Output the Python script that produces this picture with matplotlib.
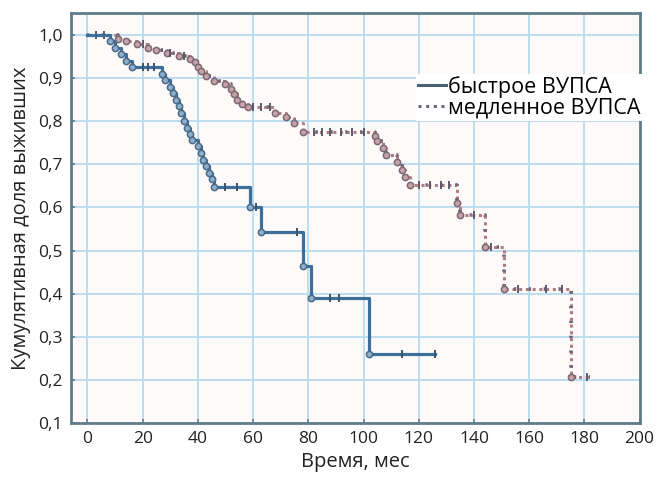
import numpy as np
import matplotlib
matplotlib.use("Agg")
import matplotlib.pyplot as plt
from matplotlib.lines import Line2D

plt.rcParams['font.family'] = ['Open Sans', 'DejaVu Sans']

# быстрое ВУПСА: step times and survival after each step
fast_t = [0, 8, 10, 12, 14, 16, 27, 28, 30, 31, 32, 33, 34, 35, 36, 37, 38, 40, 41, 42,
          43, 44, 45, 46, 59, 63, 78, 81, 102]
fast_s = [1.0, 0.985, 0.97, 0.955, 0.94, 0.925, 0.91, 0.895, 0.88, 0.865, 0.85, 0.835,
          0.82, 0.80, 0.785, 0.77, 0.757, 0.742, 0.727, 0.71, 0.695, 0.68, 0.665, 0.648,
          0.602, 0.542, 0.463, 0.389, 0.259]
fast_end = 126
fast_cens = [20, 22, 24, 50, 54, 61, 76, 88, 91, 114, 126]

# медленное ВУПСА
slow_t = [0, 11, 14, 18, 22, 25, 29, 33, 37, 39, 40, 41, 43, 46, 50, 52, 53, 54, 56, 58,
          68, 72, 75, 78, 104, 105, 107, 108, 112, 114, 115, 117, 134, 135, 144, 151, 175]
slow_s = [1.0, 0.99, 0.985, 0.978, 0.97, 0.964, 0.958, 0.952, 0.945, 0.938, 0.925, 0.917,
          0.905, 0.893, 0.887, 0.875, 0.862, 0.85, 0.84, 0.832, 0.82, 0.81, 0.795, 0.775,
          0.765, 0.753, 0.737, 0.722, 0.705, 0.687, 0.67, 0.653, 0.61, 0.583, 0.509, 0.41,
          0.206]
slow_end = 182
slow_cens = [3, 6, 20, 30, 35, 60, 63, 66, 82, 85, 88, 92, 96, 100, 120, 124, 128, 131,
             140, 146, 156, 166, 172, 181]

xticks = [0, 20, 40, 60, 80, 100, 120, 140, 160, 180, 200]
yticks = [0.1, 0.2, 0.3, 0.4, 0.5, 0.6, 0.7, 0.8, 0.9, 1.0]

blue = '#3d6f98'
red = '#b07c80'
frame = '#5e7d88'

fig = plt.figure(figsize=(6.56, 4.78), dpi=100)
ax = fig.add_axes([0.108, 0.115, 0.867, 0.858])
ax.set_facecolor('#fefafa')


def surv_at(t, s, c):
    idx = np.searchsorted(t, c, side='right') - 1
    return np.array(s)[idx]


# slow group: dotted line with dots
st = slow_t + [slow_end]
ss = slow_s + [slow_s[-1]]
ax.step(st, ss, where='post', color=red, lw=2.2, ls=(0, (1, 1.2)), zorder=3)
ax.step(st, ss, where='post', color='#6a6474', lw=2.6, ls=(0, (0.6, 3.5)), zorder=3)
ax.plot(slow_t[1:], slow_s[1:], 'o', ms=4.5, mfc='#c9a3a8', mec='#7a6a74', mew=1.1, zorder=4)
ax.plot(slow_cens, surv_at(slow_t, slow_s, slow_cens), '|', ms=6, color='#5a5a6a', mew=1.4, zorder=4)

# fast group: solid line
ft = fast_t + [fast_end]
fs = fast_s + [fast_s[-1]]
ax.step(ft, fs, where='post', color=blue, lw=2.3, zorder=5)
ax.plot(fast_t[1:], fast_s[1:], 'o', ms=4.5, mfc='#8fb0cc', mec='#4a6a88', mew=1.1, zorder=6)
ax.plot(fast_cens, surv_at(fast_t, fast_s, fast_cens), '|', ms=6, color='#3a5570', mew=1.4, zorder=6)

ax.set_xlim(-6, 200)
ax.set_ylim(0.1, 1.051)
ax.set_xticks(xticks)
ax.set_yticks(yticks)
ax.set_xticklabels([str(v) for v in xticks])
ax.set_yticklabels([f'{v:.1f}'.replace('.', ',') for v in yticks])
ax.grid(True, color='#b8dcef', lw=1.3)
ax.set_axisbelow(True)
ax.tick_params(direction='in', length=3, width=1.2, color=frame, labelsize=12.5,
               labelcolor='#222222', pad=6)
for sp in ax.spines.values():
    sp.set_color(frame)
    sp.set_linewidth(2)

ax.set_xlabel('Время, мес', fontsize=14.5, color='#222222', labelpad=3)
ax.set_ylabel('Кумулятивная доля выживших', fontsize=14.5, color='#222222', labelpad=5)

handles = [Line2D([], [], color='#4a5f70', lw=2.2),
           Line2D([], [], color='#6f6878', lw=2.2, ls=(0, (1, 1.5)))]
leg = ax.legend(handles, ['быстрое ВУПСА', 'медленное ВУПСА'], loc='upper left',
                bbox_to_anchor=(0.607, 0.852), frameon=True, fontsize=15.5,
                handlelength=1.3, handletextpad=0.1, borderpad=0.1, labelspacing=0.0,
                borderaxespad=0, fancybox=False)
leg.get_frame().set_facecolor('white')
leg.get_frame().set_edgecolor('none')
leg.get_frame().set_alpha(1)

fig.savefig('out.png', dpi=100)
